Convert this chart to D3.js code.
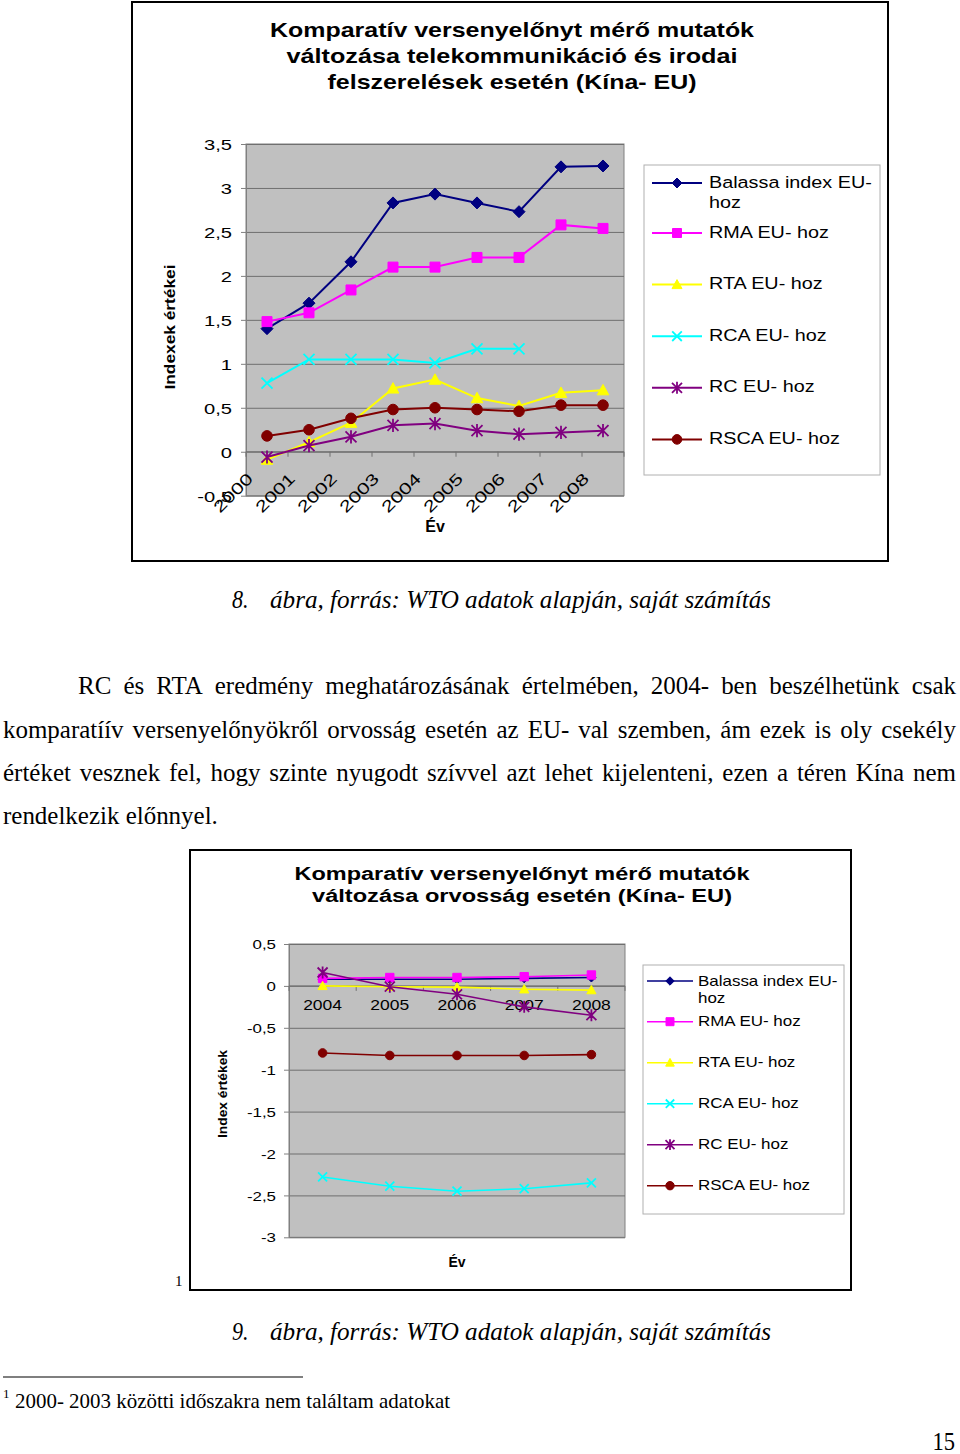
<!DOCTYPE html>
<html><head><meta charset="utf-8">
<script src="https://cdn.jsdelivr.net/npm/d3@7/dist/d3.min.js"></script>
<style>html,body{margin:0;padding:0;background:#fff}svg{display:block}</style>
</head><body>
<svg id="page" width="960" height="1454"></svg>
<script>
// ---------------- DATA ----------------
const seriesNames = ["Balassa index EU- hoz", "RMA EU- hoz", "RTA EU- hoz", "RCA EU- hoz", "RC EU- hoz", "RSCA EU- hoz"];
const seriesColors = ["#000080", "#FF00FF", "#FFFF00", "#00FFFF", "#800080", "#800000"];
const seriesSymbols = ["diamond", "square", "triangle", "x", "asterisk", "circle"];

// Chart 1 (telecom & office equipment)
const title1 = ["Komparatív versenyelőnyt mérő mutatók", "változása telekommunikáció és irodai", "felszerelések esetén (Kína- EU)"];
const years1 = ["2000", "2001", "2002", "2003", "2004", "2005", "2006", "2007", "2008"];
const balassa1 = [1.40, 1.69, 2.16, 2.83, 2.93, 2.83, 2.73, 3.24, 3.25];
const rma1     = [1.48, 1.58, 1.84, 2.10, 2.10, 2.21, 2.21, 2.58, 2.54];
const rta1     = [-0.09, 0.11, 0.33, 0.72, 0.82, 0.61, 0.52, 0.67, 0.70];
const rca1     = [0.78, 1.05, 1.05, 1.05, 1.01, 1.17, 1.17, null, null];
const rc1      = [-0.06, 0.07, 0.17, 0.30, 0.32, 0.24, 0.20, 0.22, 0.24];
const rsca1    = [0.18, 0.25, 0.38, 0.48, 0.50, 0.48, 0.46, 0.53, 0.53];
const yTicks1  = [-0.5, 0, 0.5, 1, 1.5, 2, 2.5, 3, 3.5];
const yTitle1 = "Indexek értékei";

// Chart 2 (pharmaceuticals)
const title2 = ["Komparatív versenyelőnyt mérő mutatók", "változása orvosság esetén (Kína- EU)"];
const years2 = ["2004", "2005", "2006", "2007", "2008"];
const balassa2 = [0.08, 0.08, 0.08, 0.09, 0.10];
const rma2     = [0.09, 0.10, 0.10, 0.11, 0.13];
const rta2     = [0.00, -0.01, -0.015, -0.04, -0.05];
const rca2     = [-2.28, -2.39, -2.45, -2.42, -2.35];
const rc2      = [0.16, -0.01, -0.10, -0.25, -0.35];
const rsca2    = [-0.80, -0.83, -0.83, -0.83, -0.82];
const yTicks2  = [-3, -2.5, -2, -1.5, -1, -0.5, 0, 0.5];
const yTitle2 = "Index értékek";
const xTitle = "Év";

// Page text
const caption8 = ["8.", "ábra, forrás: WTO adatok alapján, saját számítás"];
const caption9 = ["9.", "ábra, forrás: WTO adatok alapján, saját számítás"];
const paragraphLines = [
  "RC és RTA eredmény meghatározásának értelmében, 2004- ben beszélhetünk csak",
  "komparatíív versenyelőnyökről orvosság esetén az EU- val szemben, ám ezek is oly csekély",
  "értéket vesznek fel, hogy szinte nyugodt szívvel azt lehet kijelenteni, ezen a téren Kína nem",
  "rendelkezik előnnyel."
];
const footnoteMark = "1";
const footnoteText = "2000- 2003 közötti időszakra nem találtam adatokat";
const pageNumber = "15";

// ---------------- DRAWING ----------------
const SANS = "'Liberation Sans', Arial, sans-serif";
const SERIF = "'Liberation Serif', 'Times New Roman', serif";
const svg = d3.select("#page");

function txt(parent, str, x, y, o) {
  const t = parent.append("text")
    .attr("transform", `translate(${x},${y})` + (o.rotate ? ` rotate(${o.rotate})` : "") + ` scale(${o.sx || 1},1)`)
    .attr("font-family", o.family || SANS)
    .attr("font-size", o.size)
    .attr("font-weight", o.weight || "normal")
    .attr("font-style", o.style || "normal")
    .attr("text-anchor", o.anchor || "start")
    .attr("fill", "#000")
    .text(str);
  if (o.width) t.attr("textLength", o.width).attr("lengthAdjust", o.adjust || "spacingAndGlyphs");
  return t;
}

function markerPath(type, r) {
  switch (type) {
    case "diamond": return `M0,${-r}L${r},0L0,${r}L${-r},0Z`;
    case "square": return `M${-r},${-r}H${r}V${r}H${-r}Z`;
    case "triangle": return `M0,${-r}L${r},${r * 0.8}L${-r},${r * 0.8}Z`;
    case "x": return `M${-r},${-r}L${r},${r}M${-r},${r}L${r},${-r}`;
    case "asterisk": return `M${-r},${-r}L${r},${r}M${-r},${r}L${r},${-r}M0,${-r * 1.2}L0,${r * 1.2}`;
    default: return d3.symbol(d3.symbolCircle, Math.PI * r * r)();
  }
}
function styleMarker(sel, i) {
  const stroked = seriesSymbols[i] === "x" || seriesSymbols[i] === "asterisk";
  sel.attr("fill", stroked ? "none" : seriesColors[i])
     .attr("stroke", seriesColors[i])
     .attr("stroke-width", stroked ? 1.8 : 1);
}

function drawChart(c) {
  const g = svg.append("g");
  const [fx0, fy0, fx1, fy1] = c.frame;
  g.append("rect").attr("x", fx0).attr("y", fy0).attr("width", fx1 - fx0).attr("height", fy1 - fy0)
    .attr("fill", "#fff").attr("stroke", "#000").attr("stroke-width", 2);

  c.title.forEach((t, i) => txt(g, t, c.titleX, c.titleY[i],
    { size: c.titleSize, weight: "bold", anchor: "middle", width: c.titleW[i], adjust: "spacingAndGlyphs" }));

  const P = c.plot;
  const x = d3.scaleBand().domain(c.cats).range([P.l, P.r]);
  const y = d3.scaleLinear().domain(c.yDomain).range([P.b, P.t]);
  const bw = x.bandwidth();

  g.append("rect").attr("x", P.l).attr("y", P.t).attr("width", P.r - P.l).attr("height", P.b - P.t)
    .attr("fill", "#c0c0c0").attr("stroke", "#808080").attr("stroke-width", 1);

  // gridlines
  const grid = g.append("g").attr("transform", `translate(${P.l},0)`)
    .call(d3.axisLeft(y).tickValues(c.yTicks).tickSize(-(P.r - P.l)).tickFormat(""));
  grid.select(".domain").remove();
  grid.selectAll("line").attr("stroke", "#6f6f6f").attr("stroke-width", 1);

  // y axis
  const ya = g.append("g").attr("transform", `translate(${P.l},0)`)
    .call(d3.axisLeft(y).tickValues(c.yTicks).tickSizeInner(5).tickSizeOuter(0)
      .tickFormat(d => String(d).replace(".", ",")));
  ya.attr("font-family", SANS).attr("font-size", c.yTickSize);
  ya.select(".domain").attr("stroke", "#808080");
  ya.selectAll(".tick line").attr("stroke", "#808080");
  ya.selectAll(".tick text").attr("fill", "#000").attr("dy", "0.36em")
    .attr("x", -c.yTickPad / c.yTickSx).attr("transform", `scale(${c.yTickSx},1)`);

  // category axis at 0
  const y0 = y(0);
  const cax = g.append("g");
  cax.append("line").attr("x1", P.l).attr("x2", P.r).attr("y1", y0).attr("y2", y0)
    .attr("stroke", "#707070").attr("stroke-width", 1);
  c.cats.concat([null]).forEach((d) => {
    const bx = d === null ? P.r : x(d);
    cax.append("line").attr("x1", bx).attr("x2", bx).attr("y1", y0).attr("y2", y0 + 5)
      .attr("stroke", "#707070");
  });
  c.cats.forEach(d => {
    if (c.catRotate) {
      txt(cax, d, x(d) + c.catDx, y0 + c.catDy, { size: c.catSize, sx: c.catSx, rotate: -45, anchor: "end" });
    } else {
      txt(cax, d, x(d) + bw / 2, y0 + c.catDy, { size: c.catSize, sx: c.catSx, anchor: "middle" });
    }
  });

  // axis titles
  txt(g, xTitle, c.xTitlePos[0], c.xTitlePos[1], { size: c.xTitleSize, weight: "bold", anchor: "middle" });
  txt(g, c.yTitle, c.yTitlePos[0], c.yTitlePos[1], { size: c.yTitleSize, weight: "bold", anchor: "middle", rotate: -90, width: c.yTitleW });

  // series
  const line = d3.line().defined(d => d.v !== null).x(d => x(d.c) + bw / 2).y(d => y(d.v));
  c.series.forEach((vals, i) => {
    const pts = vals.map((v, j) => ({ c: c.cats[j], v }));
    g.append("path").attr("d", line(pts)).attr("fill", "none")
      .attr("stroke", seriesColors[i]).attr("stroke-width", c.lineW);
    pts.filter(p => p.v !== null).forEach(p => {
      g.append("path").attr("d", markerPath(seriesSymbols[i], c.markR[i]))
        .attr("transform", `translate(${x(p.c) + bw / 2},${y(p.v)})`)
        .call(styleMarker, i);
    });
  });

  // legend
  const L = c.legend;
  g.append("rect").attr("x", L.box[0]).attr("y", L.box[1]).attr("width", L.box[2] - L.box[0])
    .attr("height", L.box[3] - L.box[1]).attr("fill", "#fff").attr("stroke", "#b0b0b0");
  seriesNames.forEach((name, i) => {
    const ry = L.rows[i];
    g.append("line").attr("x1", L.lineX[0]).attr("x2", L.lineX[1]).attr("y1", ry).attr("y2", ry)
      .attr("stroke", seriesColors[i]).attr("stroke-width", c.lineW);
    g.append("path").attr("d", markerPath(seriesSymbols[i], c.legendR[i]))
      .attr("transform", `translate(${(L.lineX[0] + L.lineX[1]) / 2},${ry})`).call(styleMarker, i);
    const words = name.split(" ");
    const probe = txt(g, name, L.textX, ry + L.baseDy, { size: L.size, sx: L.sx });
    if (probe.node().getComputedTextLength() * L.sx > L.wrapW) {
      probe.remove();
      const lines = [words.slice(0, -1).join(" "), words[words.length - 1]];
      lines.forEach((s, k) => txt(g, s, L.textX, ry + L.baseDy + k * L.lineH, { size: L.size, sx: L.sx }));
    }
  });
}

drawChart({
  frame: [132, 2, 888, 561],
  title: title1, titleX: 512, titleY: [37, 63, 89], titleW: [484, 451, 369], titleSize: 21,
  cats: years1, plot: { l: 246, r: 624, t: 144, b: 495.7 }, yDomain: [-0.5, 3.5], yTicks: yTicks1,
  yTickSize: 15.5, yTickSx: 1.3, yTickPad: 14,
  catRotate: true, catDx: 8, catDy: 28, catSize: 16, catSx: 1.35,
  xTitlePos: [435, 532], xTitleSize: 16,
  yTitle: yTitle1, yTitlePos: [175, 327], yTitleSize: 15, yTitleW: 125,
  series: [balassa1, rma1, rta1, rca1, rc1, rsca1],
  lineW: 2, markR: [6, 5, 5.8, 5.5, 5.5, 5.3], legendR: [5, 4.5, 5, 4.8, 5, 4.8],
  legend: { box: [644, 165, 880, 475], lineX: [652, 702], textX: 709, rows: [183, 233, 284.6, 336.2, 387.8, 439.4],
            size: 16.5, sx: 1.2, baseDy: 4.5, lineH: 20.5, wrapW: 168 }
});

drawChart({
  frame: [190, 850, 851, 1290],
  title: title2, titleX: 522, titleY: [880, 902], titleW: [455, 420], titleSize: 18,
  cats: years2, plot: { l: 289, r: 625, t: 944, b: 1237.3 }, yDomain: [-3, 0.5], yTicks: yTicks2,
  yTickSize: 13, yTickSx: 1.3, yTickPad: 13,
  catRotate: false, catDy: 24, catSize: 14, catSx: 1.25,
  xTitlePos: [457, 1267], xTitleSize: 14,
  yTitle: yTitle2, yTitlePos: [227, 1094], yTitleSize: 13, yTitleW: 88,
  series: [balassa2, rma2, rta2, rca2, rc2, rsca2],
  lineW: 1.6, markR: [4.5, 4.2, 4.6, 4.5, 5, 4.3], legendR: [4.2, 4, 4.3, 4.2, 4.5, 4.2],
  legend: { box: [643, 965, 844, 1214], lineX: [647, 693], textX: 698, rows: [981, 1021.7, 1062.7, 1103.7, 1144.7, 1185.7],
            size: 14.5, sx: 1.17, baseDy: 4.5, lineH: 17, wrapW: 142 }
});

// ---------------- PAGE TEXT ----------------
const BODY = 25;
const probe = txt(svg, paragraphLines[3], 0, -100, { family: SERIF, size: BODY });
const bodySx = 215 / probe.node().getComputedTextLength();
probe.remove();

function justify(str, x0, x1, y) {
  const words = str.split(" ");
  const nodes = words.map(w => txt(svg, w, 0, y, { family: SERIF, size: BODY, sx: bodySx }));
  const widths = nodes.map(n => n.node().getComputedTextLength() * bodySx);
  const gap = (x1 - x0 - d3.sum(widths)) / (words.length - 1);
  let cx = x0;
  nodes.forEach((n, i) => { n.attr("transform", `translate(${cx},${y}) scale(${bodySx},1)`); cx += widths[i] + gap; });
}
justify(paragraphLines[0], 78, 956, 694);
justify(paragraphLines[1], 3, 956, 738);
justify(paragraphLines[2], 3, 956, 781);
txt(svg, paragraphLines[3], 3, 824, { family: SERIF, size: BODY, sx: bodySx });

[[caption8, 608], [caption9, 1340]].forEach(([cap, yy]) => {
  txt(svg, cap[0], 232, yy, { family: SERIF, size: 26, style: "italic", sx: 0.85 });
  txt(svg, cap[1], 270, yy, { family: SERIF, size: 26, style: "italic", width: 501 });
});

txt(svg, footnoteMark, 175, 1286, { family: SERIF, size: 15 });

svg.append("line").attr("x1", 3).attr("x2", 303).attr("y1", 1377).attr("y2", 1377).attr("stroke", "#000").attr("stroke-width", 1.2);
txt(svg, footnoteMark, 3, 1398, { family: SERIF, size: 13 });
txt(svg, footnoteText, 15, 1408, { family: SERIF, size: 22, width: 435 });

txt(svg, pageNumber, 955, 1450, { family: SERIF, size: 25, anchor: "end", sx: 0.9 });
</script>
</body></html>
